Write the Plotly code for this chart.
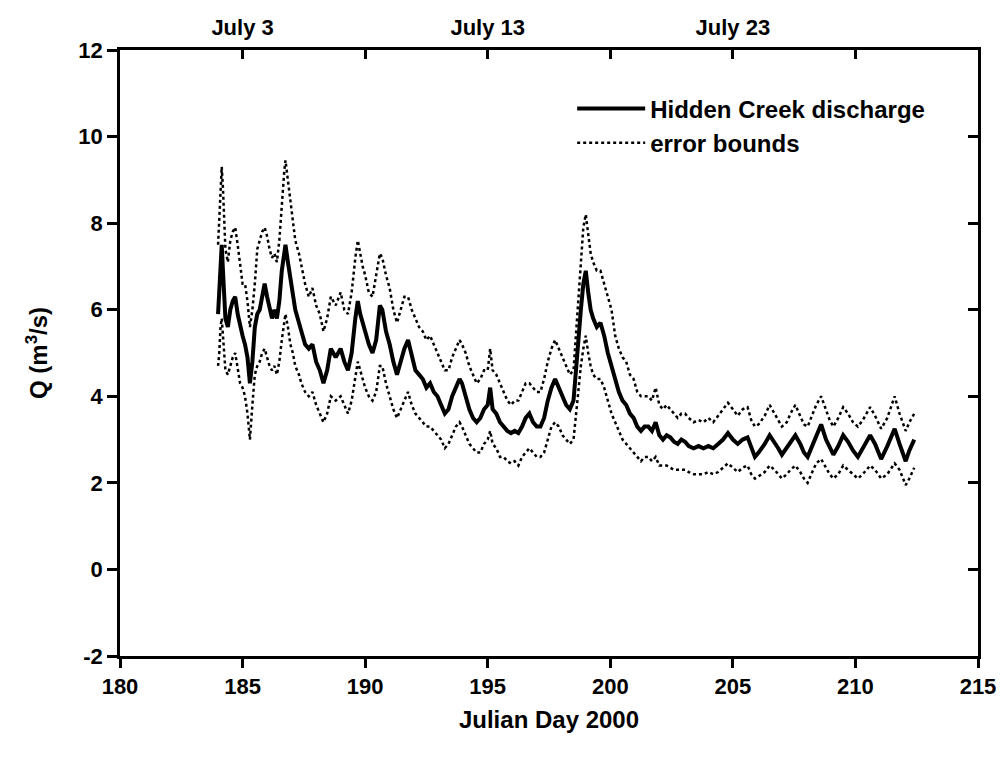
import plotly.graph_objects as go

# Julian day of each reading
day = [184.0, 184.05, 184.1, 184.15, 184.2, 184.3, 184.4, 184.5, 184.6, 184.7, 184.8, 184.9,
       185.0, 185.1, 185.2, 185.3, 185.4, 185.5, 185.6, 185.7, 185.8, 185.9, 186.0, 186.1,
       186.2, 186.3, 186.4, 186.5, 186.6, 186.7, 186.75, 186.85, 186.95, 187.05, 187.15, 187.3,
       187.4, 187.55, 187.7, 187.85, 188.0, 188.15, 188.3, 188.45, 188.6, 188.8, 189.0, 189.15,
       189.3, 189.45, 189.6, 189.7, 189.8, 189.9, 190.0, 190.15, 190.3, 190.45, 190.6, 190.7,
       190.85, 191.0, 191.15, 191.3, 191.45, 191.6, 191.75, 191.9, 192.05, 192.2, 192.35, 192.5,
       192.65, 192.8, 192.95, 193.1, 193.25, 193.4, 193.55, 193.7, 193.85, 193.95, 194.1, 194.25,
       194.4, 194.55, 194.7, 194.85, 195.0, 195.1, 195.2, 195.35, 195.5, 195.65, 195.8, 195.95,
       196.1, 196.25, 196.4, 196.55, 196.7, 196.85, 197.0, 197.15, 197.3, 197.45, 197.6, 197.75,
       197.9, 198.05, 198.2, 198.35, 198.5, 198.6, 198.7, 198.8, 198.9, 199.0, 199.1, 199.2,
       199.3, 199.45, 199.6, 199.75, 199.9, 200.05, 200.2, 200.35, 200.5, 200.65, 200.8, 200.95,
       201.1, 201.25, 201.4, 201.55, 201.7, 201.85, 202.0, 202.15, 202.3, 202.45, 202.6, 202.75,
       202.9, 203.05, 203.2, 203.4, 203.6, 203.8, 204.0, 204.2, 204.4, 204.6, 204.8, 205.0,
       205.2, 205.4, 205.6, 205.75, 205.9, 206.05, 206.3, 206.5, 206.7, 206.85, 207.0, 207.2,
       207.35, 207.55, 207.75, 207.9, 208.05, 208.2, 208.4, 208.6, 208.8, 208.95, 209.1, 209.3,
       209.5, 209.7, 209.9, 210.1, 210.3, 210.6, 210.8, 211.05, 211.3, 211.6, 211.8, 212.05,
       212.2, 212.4]

discharge = [5.9, 6.4, 7.2, 7.5, 6.9, 5.8, 5.6, 6.0, 6.2, 6.3, 5.9, 5.6,
             5.4, 5.2, 4.9, 4.3, 4.8, 5.6, 5.9, 6.0, 6.3, 6.6, 6.3, 6.0,
             5.8, 6.0, 5.8, 6.2, 6.9, 7.3, 7.5, 7.1, 6.7, 6.4, 6.0, 5.7,
             5.5, 5.2, 5.1, 5.2, 4.8, 4.6, 4.3, 4.6, 5.1, 4.9, 5.1, 4.8,
             4.6, 5.0, 5.8, 6.2, 5.9, 5.7, 5.5, 5.2, 5.0, 5.3, 6.1, 6.0,
             5.5, 5.2, 4.8, 4.5, 4.8, 5.1, 5.3, 4.9, 4.6, 4.5, 4.4, 4.2,
             4.3, 4.1, 4.0, 3.8, 3.6, 3.7, 4.0, 4.2, 4.4, 4.3, 4.0, 3.7,
             3.5, 3.4, 3.5, 3.7, 3.8, 4.2, 3.7, 3.6, 3.4, 3.3, 3.2, 3.15,
             3.2, 3.15, 3.3, 3.5, 3.6, 3.4, 3.3, 3.3, 3.5, 3.9, 4.2, 4.4,
             4.2, 4.0, 3.8, 3.7, 3.9, 4.6, 5.4, 6.0, 6.6, 6.9, 6.4, 6.0,
             5.8, 5.6, 5.7, 5.4, 5.0, 4.7, 4.4, 4.1, 3.9, 3.8, 3.6, 3.5,
             3.3, 3.2, 3.3, 3.3, 3.2, 3.4, 3.1, 3.0, 3.1, 3.05, 2.95, 2.9,
             3.0, 2.95, 2.85, 2.8, 2.85, 2.8, 2.85, 2.8, 2.9, 3.0, 3.15, 3.0,
             2.9, 3.0, 3.05, 2.8, 2.6, 2.7, 2.9, 3.1, 2.95, 2.8, 2.65, 2.8,
             2.95, 3.1, 2.9, 2.7, 2.6, 2.8, 3.1, 3.35, 3.0, 2.8, 2.65, 2.85,
             3.1, 2.95, 2.75, 2.6, 2.8, 3.1, 2.9, 2.55, 2.85, 3.25, 2.9, 2.5,
             2.75, 3.0]

upper = [7.5, 8.1, 9.0, 9.3, 8.8, 7.4, 7.1, 7.6, 7.8, 7.9, 7.5, 7.0,
         6.6, 6.6, 6.2, 5.6, 6.0, 6.6, 7.4, 7.6, 7.8, 7.9, 7.7, 7.4,
         7.2, 7.3, 7.1, 7.6, 8.5, 9.2, 9.45, 9.0, 8.5, 8.1, 7.6, 7.3,
         7.0, 6.6, 6.3, 6.5, 6.1, 5.9, 5.5, 5.8, 6.3, 6.1, 6.4, 6.0,
         5.9, 6.4, 7.2, 7.6, 7.3, 7.0, 6.8, 6.4, 6.3, 6.8, 7.3, 7.2,
         6.8, 6.5, 6.0, 5.7, 6.0, 6.3, 6.3, 6.0, 5.8, 5.6, 5.5, 5.3,
         5.4, 5.2, 5.0, 4.8, 4.6, 4.6, 4.9, 5.1, 5.3, 5.2, 5.0, 4.7,
         4.5, 4.3, 4.4, 4.6, 4.6, 5.1, 4.6, 4.5, 4.3, 4.1, 3.9, 3.8,
         3.9, 3.9, 4.1, 4.3, 4.3, 4.2, 4.1, 4.1, 4.4, 4.8, 5.1, 5.3,
         5.1, 4.9, 4.7, 4.5, 4.6, 5.4, 6.3, 7.2, 7.9, 8.2, 7.8, 7.3,
         7.1, 6.9, 6.9, 6.6, 6.3, 6.0, 5.4, 5.1, 4.9, 4.8, 4.5, 4.4,
         4.1, 4.0, 4.0, 4.0, 3.9, 4.2, 3.8, 3.7, 3.8, 3.7, 3.6, 3.5,
         3.6, 3.6, 3.5, 3.4, 3.45, 3.4, 3.5, 3.4, 3.55, 3.7, 3.85, 3.7,
         3.55, 3.7, 3.75, 3.45, 3.3, 3.35, 3.55, 3.8, 3.6, 3.45, 3.3, 3.4,
         3.6, 3.8, 3.55, 3.35, 3.3, 3.5, 3.8, 4.0, 3.7, 3.45, 3.3, 3.5,
         3.75, 3.6, 3.4, 3.3, 3.45, 3.75, 3.55, 3.25, 3.5, 4.0, 3.6, 3.2,
         3.4, 3.6]

lower = [4.7, 5.0, 5.6, 5.8, 5.4, 4.6, 4.5, 4.7, 4.9, 5.0, 4.6, 4.3,
         4.2, 4.0, 3.6, 3.0, 3.8, 4.5, 4.7, 4.8, 5.0, 5.1, 4.9, 4.7,
         4.6, 4.7, 4.5, 4.8, 5.3, 5.7, 5.9, 5.6, 5.2, 5.0, 4.7, 4.5,
         4.3, 4.1, 4.0, 4.1, 3.8, 3.6, 3.4, 3.6, 4.0, 3.9, 4.0, 3.8,
         3.6, 3.9, 4.5, 4.8, 4.6, 4.4, 4.2, 4.0, 3.9, 4.1, 4.7, 4.7,
         4.3, 4.0, 3.7, 3.5, 3.7, 3.9, 4.1, 3.8, 3.6, 3.5, 3.4, 3.3,
         3.3, 3.2, 3.1, 3.0, 2.8, 2.9, 3.1, 3.3, 3.4, 3.3, 3.1, 2.9,
         2.8, 2.7, 2.7, 2.9, 3.0, 3.2, 2.9, 2.8, 2.6, 2.6, 2.5, 2.45,
         2.5, 2.4, 2.6, 2.7, 2.8, 2.7, 2.6, 2.6, 2.7, 3.0, 3.3, 3.4,
         3.3, 3.1, 3.0, 2.9, 3.0, 3.6, 4.2, 4.7, 5.1, 5.4, 5.0, 4.7,
         4.5, 4.4, 4.4, 4.2, 3.9, 3.6, 3.4, 3.2, 3.0, 2.9, 2.8, 2.7,
         2.6, 2.5, 2.6, 2.6, 2.5, 2.6, 2.4, 2.4, 2.4, 2.35, 2.3, 2.3,
         2.3, 2.3, 2.25, 2.2, 2.2, 2.2, 2.25, 2.2, 2.25, 2.35, 2.45, 2.35,
         2.25, 2.35, 2.4, 2.2, 2.1, 2.15, 2.25, 2.4, 2.3, 2.2, 2.1, 2.2,
         2.3, 2.4, 2.25, 2.1, 2.0, 2.2, 2.45, 2.55, 2.35, 2.2, 2.1, 2.2,
         2.4, 2.3, 2.2, 2.1, 2.2, 2.4, 2.3, 2.1, 2.2, 2.45, 2.3, 1.95,
         2.1, 2.35]

x_ticks = [180, 185, 190, 195, 200, 205, 210, 215]
date_ticks = [185, 195, 205]
date_labels = ["July 3", "July 13", "July 23"]
y_ticks = [-2, 0, 2, 4, 6, 8, 10, 12]
y_labels = ["-2", "0", "2", "4", "6", "8", "10", "12"]

FAM = "Liberation Sans, Arial, sans-serif"
BOLD = dict(family=FAM, color="black", weight="bold")

fig = go.Figure()
fig.add_trace(go.Scatter(x=day, y=discharge, mode="lines", name="Hidden Creek discharge",
                         line=dict(color="black", width=4)))
fig.add_trace(go.Scatter(x=day, y=upper, mode="lines", name="error bounds",
                         legendgroup="err", line=dict(color="black", width=2.5, dash="dot")))
fig.add_trace(go.Scatter(x=day, y=lower, mode="lines", name="error bounds", showlegend=False,
                         legendgroup="err", line=dict(color="black", width=2.5, dash="dot")))
fig.add_trace(go.Scatter(x=[None], y=[None], xaxis="x2", yaxis="y2", showlegend=False,
                         hoverinfo="skip"))
fig.add_trace(go.Scatter(x=[None], y=[None], xaxis="x3", yaxis="y2", showlegend=False,
                         hoverinfo="skip"))

axis_common = dict(showline=True, linecolor="black", linewidth=2.5, tickcolor="black",
                   tickwidth=2.5, showgrid=False, zeroline=False)

fig.update_layout(
    width=1008, height=764,
    margin=dict(l=120, r=24, t=50, b=108),
    paper_bgcolor="white", plot_bgcolor="white",
    font=BOLD,
    xaxis=dict(range=[180, 215], tickvals=x_ticks, ticks="outside", ticklen=9,
               tickfont=dict(size=22, **BOLD),
               title=dict(text="Julian Day 2000", font=dict(size=24, **BOLD), standoff=14),
               **axis_common),
    yaxis=dict(range=[-2, 12], tickvals=y_ticks, ticktext=y_labels, ticks="outside", ticklen=10,
               tickfont=dict(size=22, **BOLD),
               title=dict(text="Q (m<sup>3</sup>/s)", font=dict(size=24, **BOLD), standoff=24),
               **axis_common),
    xaxis2=dict(range=[180, 215], overlaying="x", side="top", anchor="y2",
                tickvals=x_ticks, showticklabels=False, ticks="inside", ticklen=9,
                **axis_common),
    xaxis3=dict(range=[180, 215], overlaying="x", side="top", anchor="y2",
                tickvals=date_ticks, ticktext=date_labels, ticks="", showline=False,
                showgrid=False, zeroline=False, ticklabelstandoff=10,
                tickfont=dict(size=22, **BOLD)),
    yaxis2=dict(range=[-2, 12], overlaying="y", side="right", anchor="x2",
                tickvals=y_ticks, showticklabels=False, ticks="inside", ticklen=10,
                **axis_common),
    legend=dict(x=0.527, y=0.94, xanchor="left", yanchor="top", bgcolor="rgba(0,0,0,0)",
                font=dict(size=24, **BOLD), itemwidth=68, tracegroupgap=0),
    showlegend=True,
)

fig.write_html("out.html")
